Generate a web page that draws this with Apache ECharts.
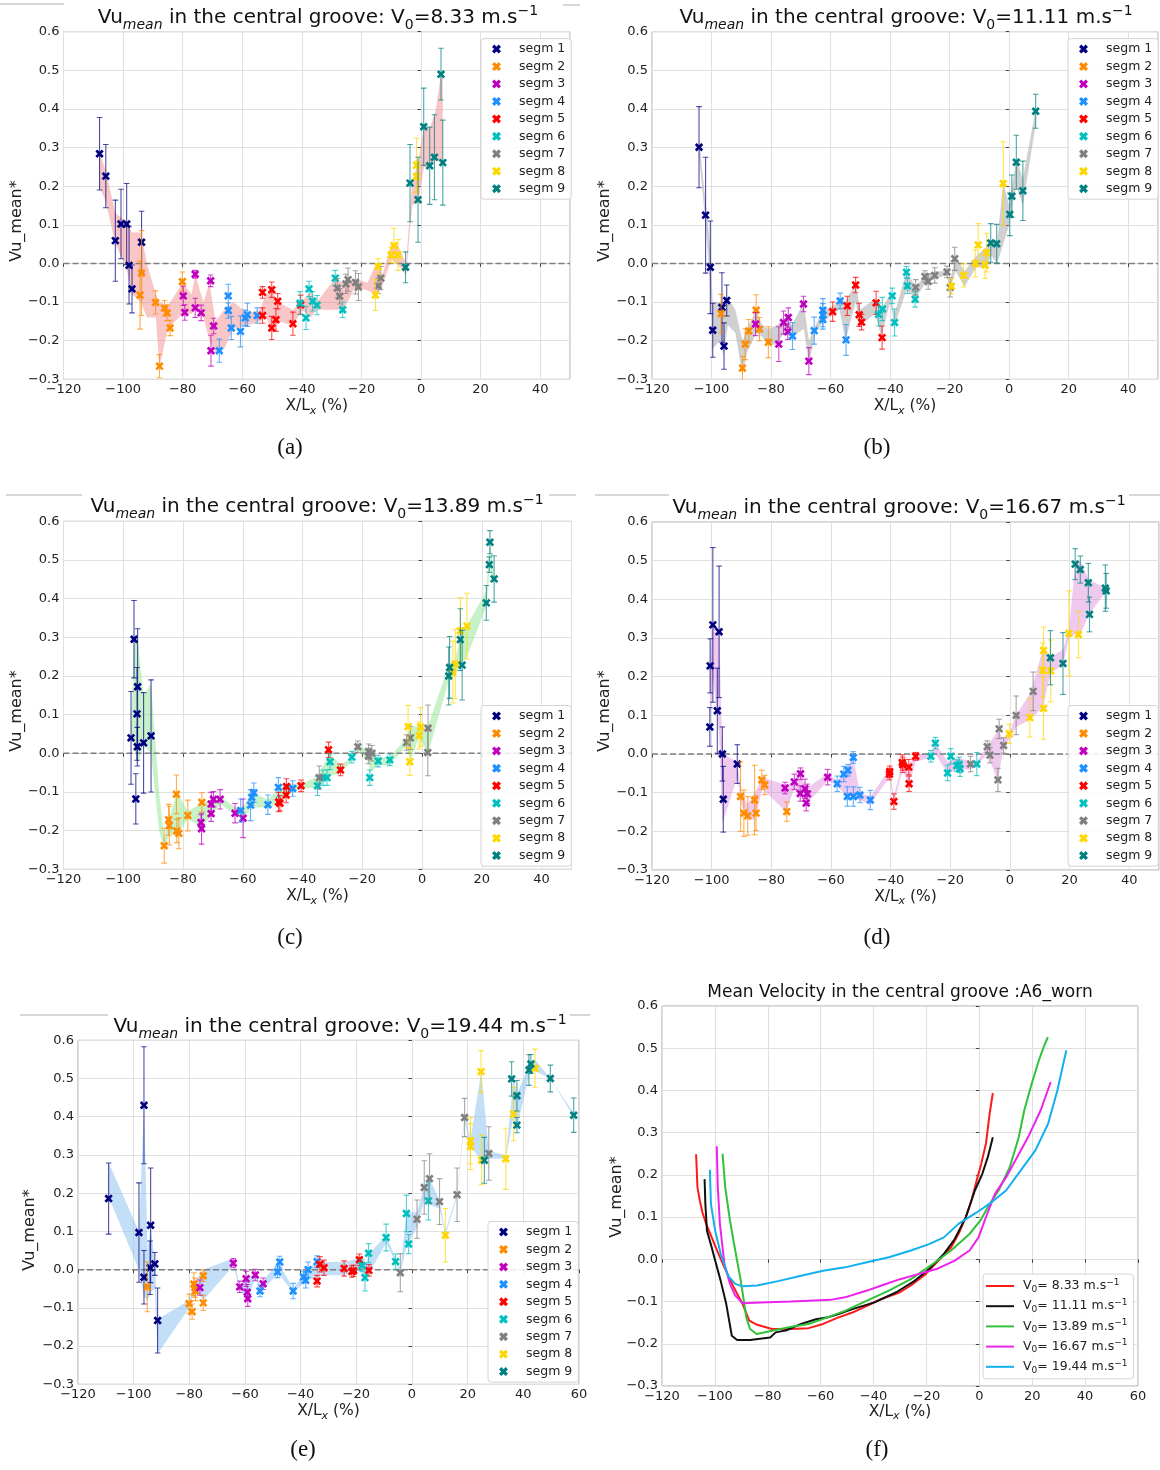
<!DOCTYPE html>
<html>
<head>
<meta charset="utf-8">
<script src="https://cdn.jsdelivr.net/npm/echarts@6/dist/echarts.min.js"></script>
<style>
html,body{margin:0;padding:0;background:#fff;}
#chart{width:1160px;height:1470px;}
</style>
</head>
<body>
<div id="chart"></div>
<script>
// ---------------- DATA ----------------
const SEG_NAMES = ['segm 1','segm 2','segm 3','segm 4','segm 5','segm 6','segm 7','segm 8','segm 9'];
const Y_TICKS = [-0.3,-0.2,-0.1,0.0,0.1,0.2,0.3,0.4,0.5,0.6];
const X_TICKS_SHORT = [-120,-100,-80,-60,-40,-20,0,20,40];
const X_TICKS_LONG = [-120,-100,-80,-60,-40,-20,0,20,40,60];
const SPEEDS = ['8.33','11.11','13.89','16.67','19.44'];
const ZERO_LINE = 0;

// panel (a)  [x, y, err]
const a_s1 = [[-107.9,0.284,0.094],[-105.8,0.226,0.082],[-102.6,0.059,0.105],[-100.7,0.102,0.09],[-98.8,0.102,0.105],[-98.0,-0.005,0.10],[-97.0,-0.066,0.062],[-93.8,0.055,0.08]];
const a_s2 = [[-94.3,-0.082,0.088],[-93.8,-0.025,0.11],[-89.1,-0.101,0.03],[-87.8,-0.266,0.03],[-86.1,-0.116,0.02],[-85.2,-0.128,0.02],[-84.2,-0.167,0.02],[-80.1,-0.047,0.025]];
const a_s3 = [[-79.8,-0.084,0.025],[-79.3,-0.127,0.02],[-75.8,-0.115,0.025],[-75.8,-0.028,0.01],[-73.8,-0.128,0.02],[-70.6,-0.045,0.015],[-69.6,-0.162,0.02],[-70.5,-0.226,0.04]];
const a_s4 = [[-67.7,-0.226,0.03],[-64.7,-0.084,0.03],[-64.7,-0.122,0.02],[-63.7,-0.167,0.03],[-60.6,-0.176,0.04],[-59.0,-0.141,0.02],[-58.3,-0.133,0.03],[-55.0,-0.135,0.02]];
const a_s5 = [[-53.2,-0.135,0.02],[-53.2,-0.075,0.015],[-50.1,-0.068,0.02],[-50.1,-0.167,0.03],[-48.7,-0.146,0.03],[-48.1,-0.098,0.02],[-43.0,-0.156,0.03],[-40.4,-0.107,0.025]];
const a_s6 = [[-40.6,-0.103,0.03],[-38.6,-0.141,0.03],[-37.6,-0.066,0.02],[-36.4,-0.098,0.025],[-34.9,-0.108,0.025],[-28.8,-0.038,0.02],[-26.3,-0.12,0.02]];
const a_s7 = [[-28.1,-0.064,0.025],[-27.3,-0.085,0.02],[-25.2,-0.053,0.025],[-24.5,-0.042,0.03],[-22.0,-0.049,0.03],[-21.0,-0.061,0.035],[-13.5,-0.038,0.03],[-14.4,-0.058,0.02]];
const a_s8 = [[-15.3,-0.082,0.04],[-14.4,-0.008,0.02],[-10.1,0.022,0.02],[-9.1,0.046,0.045],[-7.7,0.022,0.04],[-1.5,0.254,0.07],[-1.5,0.225,0.04]];
const a_s9 = [[-5.2,-0.01,0.04],[-3.7,0.208,0.1],[-1.0,0.165,0.11],[0.9,0.354,0.1],[2.9,0.253,0.1],[4.5,0.275,0.11],[6.7,0.49,0.067],[7.3,0.261,0.11]];
// band [x, low, high]
const a_band = [[-108,0.20,0.29],[-105.8,0.16,0.24],[-102.6,0.05,0.13],[-99,-0.01,0.11],[-97,-0.08,0.08],[-94,-0.10,0.08],[-92,-0.14,0.0],[-89,-0.14,-0.08],[-87.8,-0.27,-0.10],[-85,-0.17,-0.11],[-80,-0.13,-0.05],[-77,-0.13,-0.08],[-75.8,-0.12,-0.03],[-73,-0.14,-0.10],[-71,-0.20,-0.05],[-69,-0.23,-0.15],[-66,-0.22,-0.12],[-63,-0.17,-0.10],[-58,-0.16,-0.13],[-54,-0.15,-0.12],[-52,-0.14,-0.08],[-50,-0.17,-0.07],[-48,-0.15,-0.10],[-43,-0.16,-0.12],[-40,-0.12,-0.10],[-37,-0.14,-0.07],[-35,-0.12,-0.10],[-29,-0.12,-0.04],[-26,-0.12,-0.05],[-22,-0.06,-0.04],[-18,-0.07,-0.05],[-15,-0.08,0.0],[-13,-0.06,-0.03],[-10,0.01,0.05],[-8,0.0,0.05],[-5,-0.03,0.0],[-3,0.15,0.21],[-1,0.16,0.26],[1,0.25,0.36],[3,0.25,0.35],[5,0.27,0.40],[6.7,0.26,0.49],[7.3,0.26,0.50]];

// panel (b)
const b_s1 = [[-104.2,0.301,0.105],[-102.0,0.125,0.15],[-100.4,-0.010,0.12],[-99.6,-0.173,0.07],[-96.5,-0.114,0.09],[-95.8,-0.214,0.06],[-94.9,-0.096,0.04]];
const b_s2 = [[-96.8,-0.130,0.05],[-89.6,-0.271,0.03],[-88.7,-0.209,0.04],[-87.5,-0.175,0.03],[-85.0,-0.121,0.04],[-83.9,-0.170,0.03],[-80.9,-0.204,0.04]];
const b_s3 = [[-85.2,-0.157,0.03],[-77.4,-0.209,0.045],[-75.8,-0.153,0.03],[-74.4,-0.177,0.02],[-74.2,-0.140,0.025],[-69.1,-0.105,0.02],[-67.3,-0.253,0.035]];
const b_s4 = [[-72.8,-0.188,0.035],[-65.5,-0.174,0.035],[-62.6,-0.121,0.03],[-62.6,-0.134,0.03],[-62.6,-0.145,0.025],[-56.8,-0.097,0.02],[-54.8,-0.198,0.04]];
const b_s5 = [[-59.3,-0.125,0.025],[-54.4,-0.110,0.025],[-51.6,-0.056,0.02],[-50.4,-0.133,0.03],[-49.6,-0.152,0.02],[-44.7,-0.102,0.03],[-42.7,-0.192,0.03]];
const b_s6 = [[-43.9,-0.132,0.03],[-42.6,-0.118,0.03],[-39.3,-0.084,0.02],[-38.5,-0.153,0.035],[-34.5,-0.023,0.015],[-34.2,-0.058,0.02],[-31.6,-0.093,0.02]];
const b_s7 = [[-31.4,-0.062,0.02],[-28.3,-0.034,0.015],[-27.2,-0.047,0.02],[-25.0,-0.031,0.02],[-20.9,-0.022,0.015],[-19.8,-0.062,0.025],[-18.3,0.012,0.03]];
const b_s8 = [[-19.4,-0.059,0.02],[-15.3,-0.031,0.03],[-11.4,0.0,0.035],[-10.4,0.048,0.055],[-8.1,-0.004,0.035],[-7.6,0.028,0.05],[-2.0,0.207,0.108]];
const b_s9 = [[-6.2,0.053,0.05],[-4.2,0.051,0.05],[0.2,0.127,0.055],[0.9,0.174,0.055],[2.4,0.262,0.07],[4.6,0.188,0.077],[8.9,0.394,0.044]];
const b_band = [[-104.2,0.28,0.32],[-102,0.10,0.16],[-100.4,-0.06,0.04],[-99.6,-0.22,-0.10],[-97,-0.20,-0.10],[-96,-0.24,-0.10],[-94.5,-0.16,-0.09],[-92,-0.18,-0.12],[-89.6,-0.29,-0.20],[-88,-0.23,-0.17],[-85,-0.18,-0.12],[-83,-0.19,-0.16],[-81,-0.21,-0.17],[-78,-0.21,-0.16],[-75,-0.17,-0.14],[-73,-0.19,-0.16],[-69,-0.17,-0.10],[-67.3,-0.26,-0.20],[-65,-0.18,-0.16],[-62.5,-0.15,-0.12],[-59,-0.13,-0.11],[-57,-0.12,-0.09],[-55,-0.20,-0.10],[-51.6,-0.10,-0.05],[-50,-0.16,-0.12],[-45,-0.13,-0.09],[-43,-0.19,-0.12],[-40,-0.10,-0.08],[-38.5,-0.16,-0.13],[-34.5,-0.07,-0.02],[-31.5,-0.09,-0.06],[-28,-0.05,-0.03],[-25,-0.04,-0.02],[-21,-0.03,-0.02],[-20,-0.07,-0.05],[-18,-0.02,0.02],[-15,-0.06,-0.02],[-11,-0.01,0.02],[-8,-0.01,0.04],[-6,0.02,0.06],[-4,0.0,0.06],[-2,0.05,0.21],[0,0.10,0.15],[1,0.15,0.20],[2.4,0.20,0.27],[4.6,0.15,0.22],[8.9,0.36,0.40]];

// panel (c)
const c_s1 = [[-97.4,0.040,0.12],[-96.4,0.295,0.10],[-95.8,-0.118,0.065],[-95.4,0.102,0.12],[-95.2,0.172,0.15],[-95.3,0.017,0.05],[-93.2,0.027,0.13],[-90.7,0.045,0.145]];
const c_s2 = [[-86.3,-0.239,0.045],[-84.8,-0.172,0.04],[-84.6,-0.187,0.05],[-82.2,-0.106,0.05],[-82.1,-0.201,0.03],[-81.4,-0.207,0.04],[-78.4,-0.161,0.04],[-73.7,-0.127,0.025]];
const c_s3 = [[-74.0,-0.179,0.02],[-73.8,-0.195,0.04],[-70.6,-0.156,0.02],[-70.6,-0.131,0.03],[-69.8,-0.119,0.02],[-67.6,-0.119,0.025],[-62.6,-0.155,0.025],[-59.9,-0.168,0.05]];
const c_s4 = [[-60.7,-0.148,0.03],[-57.4,-0.134,0.04],[-57.0,-0.114,0.02],[-56.3,-0.102,0.025],[-51.6,-0.133,0.025],[-48.1,-0.088,0.025],[-43.3,-0.091,0.02]];
const c_s5 = [[-48.0,-0.126,0.025],[-47.6,-0.129,0.02],[-45.5,-0.108,0.02],[-45.4,-0.086,0.02],[-40.5,-0.084,0.015],[-31.3,0.009,0.02],[-27.3,-0.043,0.015]];
const c_s6 = [[-35.0,-0.084,0.025],[-33.2,-0.063,0.02],[-31.8,-0.063,0.02],[-30.8,-0.022,0.02],[-23.5,-0.010,0.015],[-17.5,-0.063,0.02],[-14.7,-0.020,0.015],[-10.8,-0.017,0.015]];
const c_s7 = [[-34.4,-0.063,0.03],[-21.5,0.017,0.015],[-18.0,-0.007,0.02],[-17.9,0.004,0.02],[-16.8,0.0,0.02],[-5.2,0.028,0.02],[-3.9,0.040,0.03],[2.0,0.065,0.06],[1.9,0.002,0.06]];
const c_s8 = [[-4.7,0.069,0.055],[-4.1,-0.022,0.035],[-1.0,0.046,0.035],[-0.5,0.068,0.05],[10.3,0.210,0.08],[11.1,0.231,0.09],[12.8,0.317,0.085],[15.0,0.329,0.085]];
const c_s9 = [[8.9,0.200,0.075],[9.2,0.222,0.08],[12.8,0.294,0.08],[13.4,0.228,0.09],[21.5,0.389,0.045],[22.5,0.488,0.02],[22.7,0.546,0.03],[24.1,0.451,0.06]];
const c_band = [[-97.4,0.03,0.05],[-96.4,0.03,0.29],[-95.3,-0.03,0.30],[-93.2,0.02,0.15],[-90.7,0.0,0.18],[-88,-0.20,-0.10],[-86.3,-0.25,-0.22],[-84.7,-0.21,-0.17],[-82,-0.21,-0.10],[-78.4,-0.17,-0.15],[-74,-0.19,-0.13],[-70,-0.16,-0.12],[-67.6,-0.13,-0.11],[-62.6,-0.16,-0.14],[-60,-0.17,-0.14],[-57,-0.14,-0.10],[-51.6,-0.14,-0.12],[-48,-0.13,-0.09],[-45.5,-0.11,-0.08],[-43,-0.10,-0.08],[-40.5,-0.09,-0.08],[-35,-0.09,-0.06],[-31,-0.06,0.0],[-27.3,-0.05,-0.03],[-23.5,-0.02,-0.01],[-21.5,0.01,0.02],[-18,-0.02,0.01],[-17.5,-0.05,0.0],[-14.7,-0.03,-0.01],[-10.8,-0.03,-0.01],[-5.2,0.02,0.04],[-4,-0.02,0.07],[-1,0.04,0.07],[2,0.0,0.07],[9,0.19,0.23],[11,0.20,0.24],[13,0.23,0.31],[15,0.25,0.33],[21.5,0.38,0.42],[22.7,0.48,0.55],[24.1,0.44,0.46]];

// panel (d)
const d_s1 = [[-100.6,0.070,0.05],[-100.5,0.228,0.07],[-99.6,0.334,0.2],[-98.1,0.112,0.11],[-97.5,0.316,0.17],[-96.4,0.0,0.07],[-96.1,-0.117,0.085],[-91.4,-0.026,0.05]];
const d_s2 = [[-90.3,-0.110,0.09],[-89.2,-0.153,0.06],[-87.9,-0.160,0.05],[-85.6,-0.119,0.09],[-85.1,-0.153,0.045],[-83.2,-0.067,0.025],[-82.2,-0.080,0.025],[-74.8,-0.149,0.025]];
const d_s3 = [[-75.4,-0.088,0.015],[-72.3,-0.072,0.02],[-70.3,-0.102,0.02],[-70.2,-0.051,0.015],[-68.7,-0.090,0.025],[-68.3,-0.127,0.02],[-67.9,-0.103,0.025],[-61.1,-0.060,0.02]];
const d_s4 = [[-57.9,-0.077,0.02],[-55.7,-0.052,0.02],[-54.3,-0.042,0.015],[-54.5,-0.110,0.025],[-52.5,-0.110,0.025],[-52.5,-0.009,0.015],[-50.3,-0.106,0.02],[-46.8,-0.119,0.025]];
const d_s5 = [[-40.4,-0.052,0.015],[-40.3,-0.046,0.015],[-38.9,-0.123,0.02],[-36.1,-0.022,0.02],[-35.9,-0.028,0.02],[-33.9,-0.034,0.02],[-33.8,-0.077,0.02],[-31.6,-0.006,0.01]];
const d_s6 = [[-26.5,-0.006,0.015],[-25.0,0.028,0.015],[-20.9,-0.049,0.02],[-19.8,-0.006,0.02],[-17.8,-0.030,0.015],[-17.0,-0.028,0.02],[-16.7,-0.038,0.02],[-11.1,-0.026,0.03]];
const d_s7 = [[-13.2,-0.026,0.02],[-7.6,0.019,0.015],[-6.7,-0.003,0.02],[-4.0,-0.067,0.03],[-3.6,0.065,0.025],[-2.1,0.022,0.02],[2.1,0.100,0.05],[7.8,0.162,0.05]];
const d_s8 = [[-0.2,0.052,0.025],[6.7,0.094,0.05],[11.0,0.217,0.07],[11.3,0.268,0.06],[11.3,0.118,0.08],[13.7,0.215,0.08],[19.8,0.312,0.11],[23.0,0.309,0.06]];
const d_s9 = [[13.6,0.249,0.07],[17.8,0.234,0.08],[21.9,0.491,0.04],[23.6,0.477,0.035],[26.3,0.443,0.05],[26.7,0.361,0.045],[32.0,0.429,0.06],[32.3,0.422,0.045]];
const d_band = [[-100.6,0.07,0.23],[-99.6,0.20,0.34],[-98.1,0.10,0.30],[-97.5,0.05,0.32],[-96.4,-0.18,0.0],[-91.4,-0.06,-0.02],[-90,-0.13,-0.10],[-88,-0.17,-0.13],[-85.5,-0.17,-0.10],[-83,-0.09,-0.06],[-75,-0.15,-0.08],[-72.3,-0.09,-0.07],[-70.2,-0.11,-0.05],[-68.3,-0.13,-0.09],[-61.1,-0.07,-0.05],[-57.9,-0.08,-0.07],[-55,-0.11,-0.04],[-52.5,-0.11,-0.01],[-50.3,-0.12,-0.10],[-46.8,-0.13,-0.11],[-40.4,-0.06,-0.04],[-38.9,-0.13,-0.11],[-36,-0.04,-0.02],[-33.9,-0.08,-0.03],[-31.6,-0.02,0.0],[-26.5,-0.01,0.0],[-25,0.0,0.03],[-20.9,-0.05,-0.02],[-17,-0.04,-0.01],[-13.2,-0.04,-0.02],[-11.1,-0.03,-0.02],[-7.6,0.0,0.02],[-4,-0.07,0.06],[-2.1,0.02,0.04],[0,0.04,0.06],[2.1,0.07,0.10],[7,0.09,0.16],[11,0.12,0.27],[13.7,0.21,0.25],[17.8,0.23,0.27],[19.8,0.30,0.32],[21.9,0.31,0.49],[23.6,0.31,0.50],[26.5,0.36,0.45],[32.2,0.42,0.43]];

// panel (e)
const e_s1 = [[-109.0,0.186,0.093],[-98.1,0.097,0.13],[-96.3,0.430,0.153],[-96.3,-0.020,0.07],[-93.9,0.116,0.15],[-94.1,0.005,0.07],[-92.4,0.015,0.03],[-91.4,-0.133,0.085]];
const e_s2 = [[-95.1,-0.045,0.065],[-80.1,-0.089,0.025],[-79.0,-0.110,0.02],[-78.4,-0.038,0.03],[-78.0,-0.047,0.025],[-77.8,-0.056,0.025],[-75.0,-0.087,0.02],[-75.0,-0.016,0.015]];
const e_s3 = [[-76.2,-0.047,0.02],[-64.2,0.017,0.012],[-61.9,-0.045,0.015],[-59.6,-0.024,0.02],[-59.2,-0.059,0.02],[-59.0,-0.076,0.02],[-56.3,-0.014,0.015],[-53.5,-0.037,0.015]];
const e_s4 = [[-54.6,-0.056,0.015],[-48.3,-0.006,0.015],[-47.5,0.020,0.015],[-42.7,-0.056,0.02],[-39.0,-0.019,0.015],[-38.2,-0.028,0.02],[-37.3,0.0,0.02],[-34.1,0.021,0.015]];
const e_s5 = [[-34.1,-0.030,0.015],[-33.1,0.014,0.02],[-31.6,0.005,0.02],[-24.4,0.003,0.02],[-21.6,-0.005,0.015],[-21.0,-0.003,0.015],[-18.9,0.026,0.015],[-15.5,-0.002,0.015]];
const e_s6 = [[-18.0,0.011,0.015],[-16.9,-0.021,0.035],[-15.6,0.043,0.025],[-9.3,0.084,0.035],[-5.9,0.021,0.02],[-2.0,0.147,0.048],[-1.2,0.067,0.025],[5.9,0.180,0.05]];
const e_s7 = [[-4.2,-0.008,0.05],[1.8,0.132,0.05],[4.4,0.215,0.07],[6.3,0.238,0.065],[9.9,0.178,0.06],[16.2,0.196,0.07],[18.9,0.398,0.05],[27.6,0.304,0.07]];
const e_s8 = [[12.0,0.090,0.07],[21.0,0.337,0.06],[21.0,0.322,0.06],[24.8,0.518,0.055],[25.0,0.287,0.065],[33.7,0.290,0.08],[36.5,0.407,0.07],[44.2,0.527,0.05]];
const e_s9 = [[26.0,0.286,0.06],[35.8,0.499,0.045],[37.7,0.455,0.04],[37.7,0.378,0.02],[42.0,0.522,0.04],[42.7,0.538,0.025],[49.7,0.500,0.035],[58.1,0.404,0.045]];
const e_band = [[-109,0.19,0.28],[-98.1,0.0,0.10],[-96.3,-0.07,0.43],[-95,-0.08,0.05],[-93.9,-0.06,0.11],[-92.4,-0.05,0.02],[-91.4,-0.22,-0.13],[-80,-0.10,-0.08],[-78,-0.05,-0.03],[-75,-0.08,0.0],[-64.2,0.01,0.03],[-61.9,-0.05,-0.04],[-59,-0.08,-0.02],[-56.3,-0.02,-0.01],[-54.6,-0.06,-0.04],[-48,-0.01,0.02],[-42.7,-0.06,-0.05],[-38,-0.03,0.0],[-34.1,-0.02,0.02],[-31.6,-0.015,0.02],[-24.4,-0.015,0.02],[-19,0.0,0.03],[-16.9,-0.03,0.01],[-15.5,-0.01,0.04],[-9.3,0.07,0.09],[-5.9,0.02,0.03],[-4.2,-0.01,0.0],[-2,0.06,0.15],[1.8,0.11,0.15],[4.4,0.18,0.22],[6.3,0.17,0.24],[9.9,0.16,0.18],[12,0.09,0.10],[16.2,0.19,0.20],[18.9,0.39,0.41],[21,0.32,0.34],[24.9,0.29,0.52],[27.6,0.29,0.31],[33.7,0.29,0.30],[36.5,0.40,0.50],[37.7,0.37,0.46],[42.4,0.52,0.54],[44.2,0.52,0.55],[49.7,0.50,0.50],[58.1,0.40,0.41]];

// panel (f)  [x, y]
const f_v833 = [[-107.1,0.249],[-106.6,0.171],[-105.7,0.139],[-104.7,0.111],[-103.3,0.084],[-101.2,0.052],[-99.2,0.021],[-96.4,-0.019],[-92.9,-0.066],[-89.5,-0.106],[-87.0,-0.145],[-84.0,-0.155],[-78.4,-0.165],[-71.5,-0.165],[-64.6,-0.163],[-59.1,-0.153],[-53.5,-0.138],[-48.0,-0.126],[-42.5,-0.110],[-37.0,-0.094],[-30.0,-0.078],[-25.9,-0.062],[-20.3,-0.035],[-14.8,0.001],[-10.7,0.028],[-7.9,0.060],[-5.1,0.100],[-3.0,0.139],[-1.0,0.187],[0.7,0.226],[2.5,0.274],[3.9,0.345],[5.1,0.394]];
const f_v1111 = [[-103.9,0.190],[-103.6,0.131],[-103.0,0.068],[-101.2,0.028],[-99.9,-0.003],[-97.8,-0.051],[-95.7,-0.106],[-93.6,-0.181],[-91.6,-0.191],[-86.7,-0.191],[-79.1,-0.185],[-77.0,-0.173],[-72.9,-0.168],[-67.4,-0.153],[-61.8,-0.142],[-57.7,-0.138],[-53.5,-0.130],[-48.0,-0.118],[-39.7,-0.102],[-31.4,-0.078],[-24.5,-0.051],[-19.0,-0.023],[-13.4,0.013],[-9.3,0.048],[-5.1,0.100],[-1.7,0.163],[1.1,0.202],[3.2,0.242],[5.1,0.289]];
const f_v1389 = [[-97.1,0.250],[-96.1,0.171],[-94.3,0.092],[-92.3,0.021],[-90.2,-0.051],[-88.1,-0.138],[-86.7,-0.165],[-84.2,-0.177],[-78.4,-0.169],[-71.5,-0.160],[-64.6,-0.153],[-57.7,-0.138],[-50.8,-0.122],[-42.5,-0.098],[-34.2,-0.074],[-25.9,-0.047],[-17.6,-0.011],[-10.7,0.021],[-3.7,0.060],[0.4,0.092],[3.9,0.131],[7.3,0.163],[11.5,0.218],[14.9,0.289],[17.0,0.353],[19.8,0.416],[22.5,0.471],[24.6,0.507],[25.9,0.526]];
const f_v1667 = [[-99.3,0.268],[-98.9,0.171],[-98.1,0.084],[-96.4,-0.011],[-94.3,-0.058],[-92.3,-0.086],[-89.5,-0.104],[-82.6,-0.102],[-71.5,-0.100],[-64.6,-0.098],[-56.3,-0.096],[-50.8,-0.090],[-42.5,-0.074],[-37.0,-0.062],[-30.0,-0.047],[-23.1,-0.035],[-16.2,-0.023],[-9.3,-0.003],[-3.7,0.021],[-0.3,0.052],[2.5,0.100],[5.9,0.155],[10.1,0.194],[13.6,0.234],[18.4,0.289],[23.2,0.353],[27.0,0.420]];
const f_v1944 = [[-101.9,0.212],[-101.5,0.131],[-99.9,0.068],[-97.8,0.013],[-95.0,-0.039],[-92.3,-0.058],[-89.5,-0.064],[-84.0,-0.062],[-75.7,-0.051],[-67.4,-0.039],[-59.1,-0.027],[-50.8,-0.019],[-42.5,-0.007],[-34.2,0.005],[-25.9,0.021],[-19.0,0.036],[-13.4,0.052],[-7.9,0.084],[-1.0,0.111],[4.6,0.135],[10.1,0.163],[15.6,0.210],[21.2,0.258],[26.0,0.321],[29.5,0.400],[32.9,0.495]];

// ---------------- STYLE / LAYOUT ----------------
const FONT = 'DejaVu Sans';
const SEG_COLORS = ['#000080','#ff8c00','#bf00bf','#1e90ff','#ff0000','#00bfbf','#808080','#ffd700','#008080'];
const LINE_COLORS = ['#ff1a1a','#111111','#2fc23a','#ee22ee','#12b0f0'];
const XPATH = 'path://M0,2.6 L2.6,0 L5,2.4 L7.4,0 L10,2.6 L7.6,5 L10,7.4 L7.4,10 L5,7.6 L2.6,10 L0,7.4 L2.4,5 Z';

const PANELS = [
  {segs:[a_s1,a_s2,a_s3,a_s4,a_s5,a_s6,a_s7,a_s8,a_s9], band:a_band, bandColor:'rgba(240,128,128,0.45)',
   grid:{left:63.5,top:31.7,width:506.5,height:347.6}, xMax:50, legend:{left:481,top:38.6}, title:{x:318,y:18}, speed:0, cap:{x:290,y:448,t:'(a)'}, yName:{x:17,y:221}},
  {segs:[b_s1,b_s2,b_s3,b_s4,b_s5,b_s6,b_s7,b_s8,b_s9], band:b_band, bandColor:'rgba(150,150,150,0.45)',
   grid:{left:652,top:31.7,width:506,height:347.6}, xMax:50, legend:{left:1068,top:38.6}, title:{x:906,y:18}, speed:1, cap:{x:877,y:448,t:'(b)'}, yName:{x:605,y:221}},
  {segs:[c_s1,c_s2,c_s3,c_s4,c_s5,c_s6,c_s7,c_s8,c_s9], band:c_band, bandColor:'rgba(144,230,144,0.5)',
   grid:{left:63.5,top:521.3,width:508,height:348}, xMax:50, legend:{left:481,top:705.5}, title:{x:317,y:507}, speed:2, cap:{x:290,y:938,t:'(c)'}, yName:{x:17,y:711}},
  {segs:[d_s1,d_s2,d_s3,d_s4,d_s5,d_s6,d_s7,d_s8,d_s9], band:d_band, bandColor:'rgba(218,120,214,0.4)',
   grid:{left:652,top:522,width:507,height:348}, xMax:50, legend:{left:1068,top:705.5}, title:{x:899,y:508}, speed:3, cap:{x:877,y:938,t:'(d)'}, yName:{x:605,y:711}},
  {segs:[e_s1,e_s2,e_s3,e_s4,e_s5,e_s6,e_s7,e_s8,e_s9], band:e_band, bandColor:'rgba(135,190,240,0.5)',
   grid:{left:78,top:1040.3,width:501,height:344}, xMax:60, legend:{left:488,top:1221.5}, title:{x:340,y:1027}, speed:4, cap:{x:303,y:1450,t:'(e)'}, yName:{x:30,y:1230}}
];
const F_PANEL = {grid:{left:662,top:1006,width:476,height:380}, xMax:60, legend:{left:983,top:1274}, title:{x:900,y:993}, cap:{x:877,y:1450,t:'(f)'}, yName:{x:617,y:1197}};

// ---------------- BUILD ----------------
function fmtX(v){ v=Math.round(v); return (v<0?'\u2212':'')+Math.abs(v); }
function fmtY(v){ v=Math.round(v*10)/10; return (v<0?'\u2212':'')+Math.abs(v).toFixed(1); }

function xMarker(cx, cy, a, w){
  const pts=[[-a,-a+w],[-a+w,-a],[0,-w],[a-w,-a],[a,-a+w],[w,0],[a,a-w],[a-w,a],[0,w],[-a+w,a],[-a,a-w],[-w,0]];
  return pts.map(p=>[cx+p[0], cy+p[1]]);
}
function errRender(color){
  return function(params, api){
    const x=api.value(0), y=api.value(1), e=api.value(2);
    const c=api.coord([x,y]), t=api.coord([x,y+e]), b=api.coord([x,y-e]);
    const hw=2.8;
    const st={stroke:color,lineWidth:1.1,opacity:0.7};
    return {type:'group', children:[
      {type:'line', shape:{x1:c[0],y1:t[1],x2:c[0],y2:b[1]}, style:st},
      {type:'line', shape:{x1:c[0]-hw,y1:t[1],x2:c[0]+hw,y2:t[1]}, style:st},
      {type:'line', shape:{x1:c[0]-hw,y1:b[1],x2:c[0]+hw,y2:b[1]}, style:st},
      {type:'polygon', shape:{points:xMarker(c[0],c[1],4.2,1.9)}, style:{fill:color}}
    ]};
  };
}
function bandRender(band, color){
  return function(params, api){
    if(params.dataIndex!==0) return null;
    const up=band.map(r=>api.coord([r[0],r[2]]));
    const lo=band.map(r=>api.coord([r[0],r[1]])).reverse();
    return {type:'polygon', shape:{points:up.concat(lo)}, style:{fill:color, stroke:null}};
  };
}
function zeroRender(params, api){
  const cs=params.coordSys;
  const y=api.coord([api.value(0), api.value(1)])[1];
  return {type:'line', shape:{x1:cs.x,y1:y,x2:cs.x+cs.width,y2:y}, style:{stroke:'#7f7f7f',lineWidth:1.5,lineDash:[6,3]}};
}

const grids=[], xAxes=[], yAxes=[], series=[], legends=[], graphics=[];

function axisPair(idx, xMax, xNameGap){
  xAxes.push({
    type:'value', gridIndex:idx, min:X_TICKS_LONG[0], max:xMax, interval:20,
    axisLine:{show:false}, axisTick:{show:true,length:3.5,lineStyle:{color:'#444'}},
    splitLine:{show:true,lineStyle:{color:'#e0e0e0',width:1}},
    axisLabel:{formatter:fmtX, fontFamily:FONT, fontSize:13, color:'#222', margin:4, showMaxLabel:xMax===60},
    name:'{n|X/L}{s|x}{n| (%)}', nameLocation:'middle', nameGap:xNameGap,
    nameTextStyle:{fontFamily:FONT, color:'#222', rich:{
      n:{fontFamily:FONT,fontSize:15.5,color:'#222',lineHeight:20},
      s:{fontFamily:FONT,fontSize:11,color:'#222',fontStyle:'italic',lineHeight:10,verticalAlign:'bottom'}}}
  });
  yAxes.push({
    type:'value', gridIndex:idx, min:Y_TICKS[0], max:Y_TICKS[Y_TICKS.length-1], interval:0.1,
    axisLine:{show:false}, axisTick:{show:true,length:3.5,lineStyle:{color:'#444'}},
    splitLine:{show:true,lineStyle:{color:'#e0e0e0',width:1}},
    axisLabel:{formatter:fmtY, fontFamily:FONT, fontSize:13, color:'#222', margin:4}
  });
}

function titleRich(size){
  return {
    n:{fontFamily:FONT,fontSize:size,fill:'#111',lineHeight:size+8},
    s:{fontFamily:FONT,fontSize:size*0.7,fill:'#111',fontStyle:'italic',lineHeight:size*0.7,verticalAlign:'bottom'},
    z:{fontFamily:FONT,fontSize:size*0.7,fill:'#111',lineHeight:size*0.7,verticalAlign:'bottom'},
    p:{fontFamily:FONT,fontSize:size*0.7,fill:'#111',lineHeight:size*0.7,verticalAlign:'top'}
  };
}
function yNameGraphic(pos){
  return {type:'text', x:pos.x, y:pos.y, rotation:Math.PI/2, style:{text:'Vu_mean*', fontFamily:FONT, fontSize:16, fill:'#222', align:'center', verticalAlign:'middle'}};
}

PANELS.forEach((P, idx)=>{
  grids.push(Object.assign({show:true,borderColor:'#a8a8a8',borderWidth:1,backgroundColor:'#fff',containLabel:false,outerBoundsMode:'none'}, P.grid));
  axisPair(idx, P.xMax, 17);
  series.push({type:'custom', name:'band'+idx, xAxisIndex:idx, yAxisIndex:idx, data:P.band, encode:{x:0,y:[1,2]},
    renderItem:bandRender(P.band,P.bandColor), clip:true, z:1, silent:true});
  series.push({type:'custom', name:'zero'+idx, xAxisIndex:idx, yAxisIndex:idx, data:[[0,ZERO_LINE]], encode:{x:0,y:1},
    renderItem:zeroRender, clip:true, z:1.5, silent:true});
  P.segs.forEach((seg, k)=>{
    series.push({type:'custom', name:SEG_NAMES[k], xAxisIndex:idx, yAxisIndex:idx, data:seg, encode:{x:0,y:[1,2]},
      renderItem:errRender(SEG_COLORS[k]), itemStyle:{color:SEG_COLORS[k]}, clip:true, z:3});
  });
  legends.push({
    orient:'vertical', left:P.legend.left, top:P.legend.top, padding:[4,6,4,11],
    itemWidth:9, itemHeight:9, itemGap:4.45, selectedMode:false,
    backgroundColor:'rgba(255,255,255,0.85)', borderColor:'#d4d4d4', borderWidth:1, borderRadius:3,
    textStyle:{fontFamily:FONT,fontSize:12.5,color:'#222',lineHeight:12,padding:[0,0,0,13]},
    data:SEG_NAMES.map((n,k)=>({name:n, icon:XPATH, itemStyle:{color:SEG_COLORS[k]}}))
  });
  graphics.push({type:'text', x:P.title.x, y:P.title.y, z:10, style:{
    text:'{n|Vu}{s|mean}{n| in the central groove: V}{z|0}{n|='+SPEEDS[P.speed]+' m.s}{p|\u22121}',
    fontFamily:FONT, fontSize:20, fill:'#111', align:'center', verticalAlign:'middle', rich:titleRich(20)}});
  graphics.push({type:'text', x:P.cap.x, y:P.cap.y, style:{text:P.cap.t, fontFamily:'Liberation Serif', fontSize:23, fill:'#111', align:'center', verticalAlign:'middle'}});
  graphics.push(yNameGraphic(P.yName));
});

// panel (f)
const fIdx = PANELS.length;
grids.push(Object.assign({show:true,borderColor:'#a8a8a8',borderWidth:1,backgroundColor:'#fff',containLabel:false,outerBoundsMode:'none'}, F_PANEL.grid));
axisPair(fIdx, F_PANEL.xMax, 15);
[f_v833,f_v1111,f_v1389,f_v1667,f_v1944].forEach((d,k)=>{
  series.push({type:'line', name:SPEEDS[k], xAxisIndex:fIdx, yAxisIndex:fIdx, data:d, symbol:'none', showSymbol:false,
    lineStyle:{color:LINE_COLORS[k],width:2}, itemStyle:{color:LINE_COLORS[k]}, z:3, smooth:false});
});
legends.push({
  orient:'vertical', left:F_PANEL.legend.left, top:F_PANEL.legend.top, padding:[4,6,4,3],
  itemWidth:28, itemHeight:2, itemGap:4.2, selectedMode:false,
  backgroundColor:'rgba(255,255,255,0.85)', borderColor:'#d4d4d4', borderWidth:1, borderRadius:3,
  formatter: n => '{n|V}{s|0}{n|= '+n+' m.s}{p|\u22121}',
  textStyle:{fontFamily:FONT,fontSize:12.5,color:'#222',lineHeight:16,padding:[0,0,0,4], rich:{
    n:{fontFamily:FONT,fontSize:12.5,color:'#222',lineHeight:16},
    s:{fontFamily:FONT,fontSize:9,color:'#222',lineHeight:9,verticalAlign:'bottom'},
    p:{fontFamily:FONT,fontSize:9,color:'#222',lineHeight:9,verticalAlign:'top'}}},
  data:SPEEDS.map((n,k)=>({name:n, icon:'rect', itemStyle:{color:LINE_COLORS[k]}}))
});
graphics.push({type:'text', x:F_PANEL.title.x, y:F_PANEL.title.y, style:{text:'Mean Velocity in the central groove :A6_worn',
  fontFamily:FONT, fontSize:17, fill:'#111', align:'center', verticalAlign:'middle'}});
graphics.push({type:'text', x:F_PANEL.cap.x, y:F_PANEL.cap.y, style:{text:F_PANEL.cap.t, fontFamily:'Liberation Serif', fontSize:23, fill:'#111', align:'center', verticalAlign:'middle'}});
graphics.push(yNameGraphic(F_PANEL.yName));

// faint frame fragments at the top corners of panels
[[0,64,4],[563,580,5],[6,82,495],[549,576,495],[595,669,495],[1129,1160,495],[20,108,1015],[570,590,1015]].forEach(s=>{
  graphics.push({type:'line', shape:{x1:s[0],y1:s[2],x2:s[1],y2:s[2]}, style:{stroke:'#b0b0b0',lineWidth:1}});
});

const chart = echarts.init(document.getElementById('chart'), null, {renderer:'canvas'});
chart.setOption({
  backgroundColor:'#ffffff', animation:false,
  grid:grids, xAxis:xAxes, yAxis:yAxes, series:series, legend:legends, graphic:graphics
});
</script>
</body>
</html>
